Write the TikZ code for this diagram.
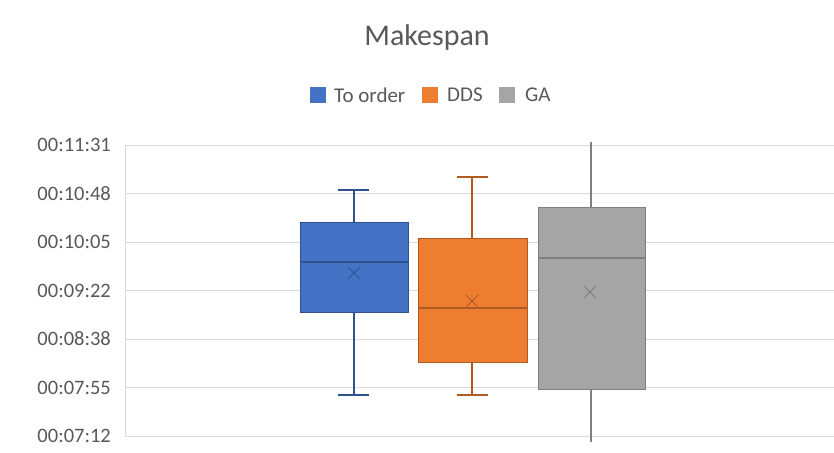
\documentclass[tikz,border=0pt]{standalone}
\usepackage{fontspec}
\setmainfont{Carlito}
\definecolor{txt}{HTML}{595959}
\definecolor{grid}{HTML}{D9D9D9}
\definecolor{cblue}{HTML}{4472C4}
\definecolor{cblueD}{HTML}{2F528F}
\definecolor{corange}{HTML}{ED7D31}
\definecolor{corangeD}{HTML}{AE5A21}
\definecolor{cgray}{HTML}{A5A5A5}
\definecolor{cgrayD}{HTML}{7F7F7F}
\begin{document}
\begin{tikzpicture}[x=1pt,y=-1pt,
  tick/.style={anchor=east,text=txt,font=\fontsize{20.5}{22}\selectfont,inner sep=0pt},
  gridline/.style={draw=grid,line width=0.9pt},
  legtext/.style={anchor=west,text=txt,font=\fontsize{21}{23}\selectfont,inner sep=0pt},
  legbox/.style={minimum size=16pt,inner sep=0pt,draw=none},
  whisk/.style={line width=1.2pt},
  meanmark/.style={line width=1pt}]
\useasboundingbox[fill=white] (0,0) rectangle (834,452);
% grid
\foreach \y/\lab in {145/00:11:31,193.5/00:10:48,242/00:10:05,290.5/00:09:22,339/00:08:38,387.5/00:07:55,436/00:07:12}{
  \draw[gridline] (125,\y) -- (834,\y);
  \node[tick] at (111,\y) {\lab};
}
\draw[gridline] (125,145) -- (125,436);
% title
\node[text=txt,font=\fontsize{30}{32}\selectfont] (title) at (427,38) {Makespan};
% legend
\node[legbox,fill=cblue] (lb1) at (317.5,95) {};
\node[legtext] (lt1) at (334,95) {To order};
\node[legbox,fill=corange] (lb2) at (430,95) {};
\node[legtext] (lt2) at (447,95) {DDS};
\node[legbox,fill=cgray] (lb3) at (507,95) {};
\node[legtext] (lt3) at (525,95) {GA};
% blue box
\draw[whisk,draw=cblueD] (354,190) -- (354,395);
\draw[whisk,draw=cblueD] (338,190) -- (369,190);
\draw[whisk,draw=cblueD] (338,395) -- (369,395);
\filldraw[fill=cblue,draw=cblueD,line width=1pt] (300,222) rectangle (408,312);
\draw[draw=cblueD,line width=1.2pt] (300,262) -- (408,262);
\draw[meanmark,draw=cblueD] (348,267) -- (360,279) (348,279) -- (360,267);
% orange box
\draw[whisk,draw=corangeD] (472,177) -- (472,395);
\draw[whisk,draw=corangeD] (457,177) -- (488,177);
\draw[whisk,draw=corangeD] (457,395) -- (488,395);
\filldraw[fill=corange,draw=corangeD,line width=1pt] (418,238) rectangle (527,362);
\draw[draw=corangeD,line width=1.2pt] (418,308) -- (527,308);
\draw[meanmark,draw=corangeD] (466,295) -- (478,307) (466,307) -- (478,295);
% gray box
\draw[whisk,draw=cgrayD] (591,142) -- (591,442);
\filldraw[fill=cgray,draw=cgrayD,line width=1pt] (538,207) rectangle (645,389);
\draw[draw=cgrayD,line width=1.2pt] (538,258) -- (645,258);
\draw[meanmark,draw=cgrayD] (584,286) -- (596,298) (584,298) -- (596,286);
\end{tikzpicture}
\end{document}
